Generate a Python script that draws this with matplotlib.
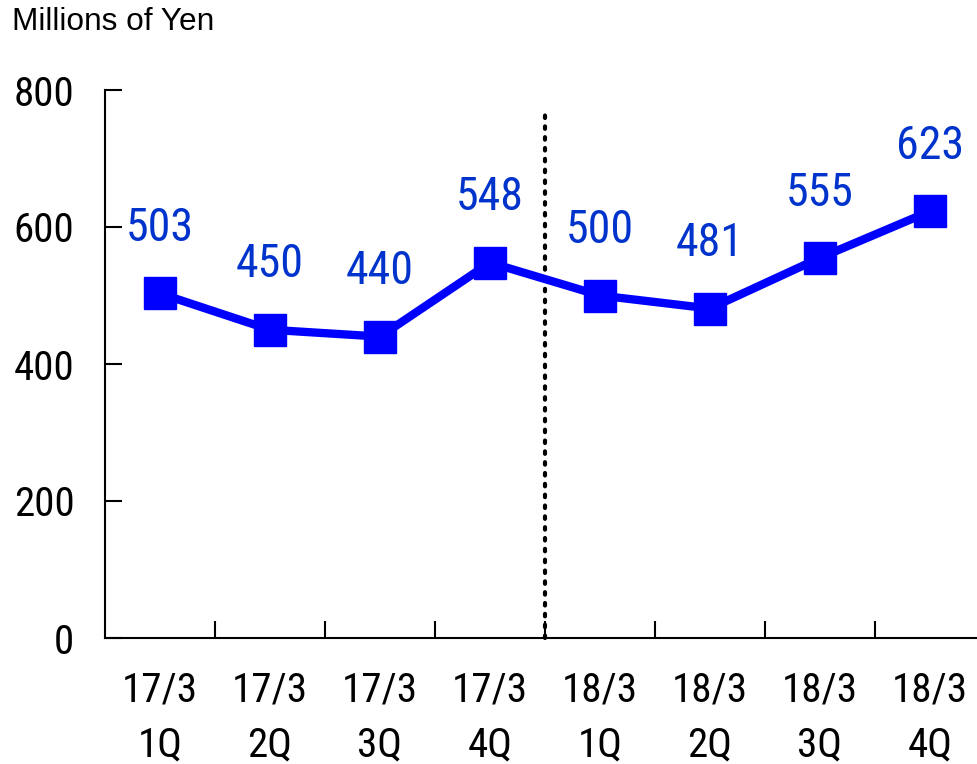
import matplotlib.pyplot as plt
from matplotlib import font_manager
from matplotlib.transforms import blended_transform_factory

periods = ["17/3", "17/3", "17/3", "17/3", "18/3", "18/3", "18/3", "18/3"]
quarters = ["1Q", "2Q", "3Q", "4Q", "1Q", "2Q", "3Q", "4Q"]
values = [503, 450, 440, 548, 500, 481, 555, 623]
y_ticks = [0, 200, 400, 600, 800]

# pick a narrow face if one is installed
names = {f.name for f in font_manager.fontManager.ttflist}
narrow = {"family": "Noto Sans CJK JP"}
for cand in ["Roboto Condensed", "Liberation Sans Narrow", "Open Sans Condensed"]:
    if cand in names:
        narrow = {"family": cand}
        break
else:
    for f in font_manager.fontManager.ttflist:
        if f.name == "DejaVu Sans" and "ondensed" in str(f.stretch) and f.weight in (400, "normal") and f.style == "normal":
            narrow = {"family": "DejaVu Sans", "stretch": "condensed"}
            break

fig = plt.figure(figsize=(9.78, 7.64), dpi=100)
ax = fig.add_axes([105 / 978, 126 / 764, 880 / 978, 548 / 764])

x = list(range(len(values)))
ax.plot(x, values, color="#0000FF", lw=6, marker="s", markersize=23,
        markerfacecolor="#0000FF", markeredgecolor="#0000FF", zorder=3)

for xi, v in zip(x, values):
    ax.annotate(str(v), (xi, v), xytext=(0, 47), textcoords="offset points",
                ha="center", va="center", fontsize=33, color="#0033CC",
                **narrow)

# divider between fiscal years
ax.plot([3.5, 3.5], [0, 770], color="black", lw=3, linestyle=(0, (0.6, 2.0)),
        dash_capstyle="round", clip_on=False, zorder=2)

ax.set_xlim(-0.5, 7.5)
ax.set_ylim(0, 800)
ax.set_yticks(y_ticks)
ax.set_yticklabels([str(t) for t in y_ticks], fontsize=29.5, **narrow)
ax.set_xticks([i + 0.5 for i in range(7)])
ax.set_xticklabels([])
ax.tick_params(axis="x", direction="in", length=12, width=1.5)
ax.tick_params(axis="y", direction="in", length=12, width=1.5, pad=22)

trans = blended_transform_factory(ax.transData, ax.transAxes)
for xi, p, q in zip(x, periods, quarters):
    ax.text(xi, -0.095, p, transform=trans, ha="center", va="center",
            fontsize=29.5, **narrow)
    ax.text(xi, -0.195, q, transform=trans, ha="center", va="center",
            fontsize=29.5, **narrow)

for s in ["top", "right"]:
    ax.spines[s].set_visible(False)
for s in ["left", "bottom"]:
    ax.spines[s].set_linewidth(1.5)

fig.text(12 / 978, 1 - 22 / 764, "Millions of Yen", fontsize=22.8,
         family="Liberation Sans", va="center", ha="left")

fig.savefig("out.png", dpi=100)
